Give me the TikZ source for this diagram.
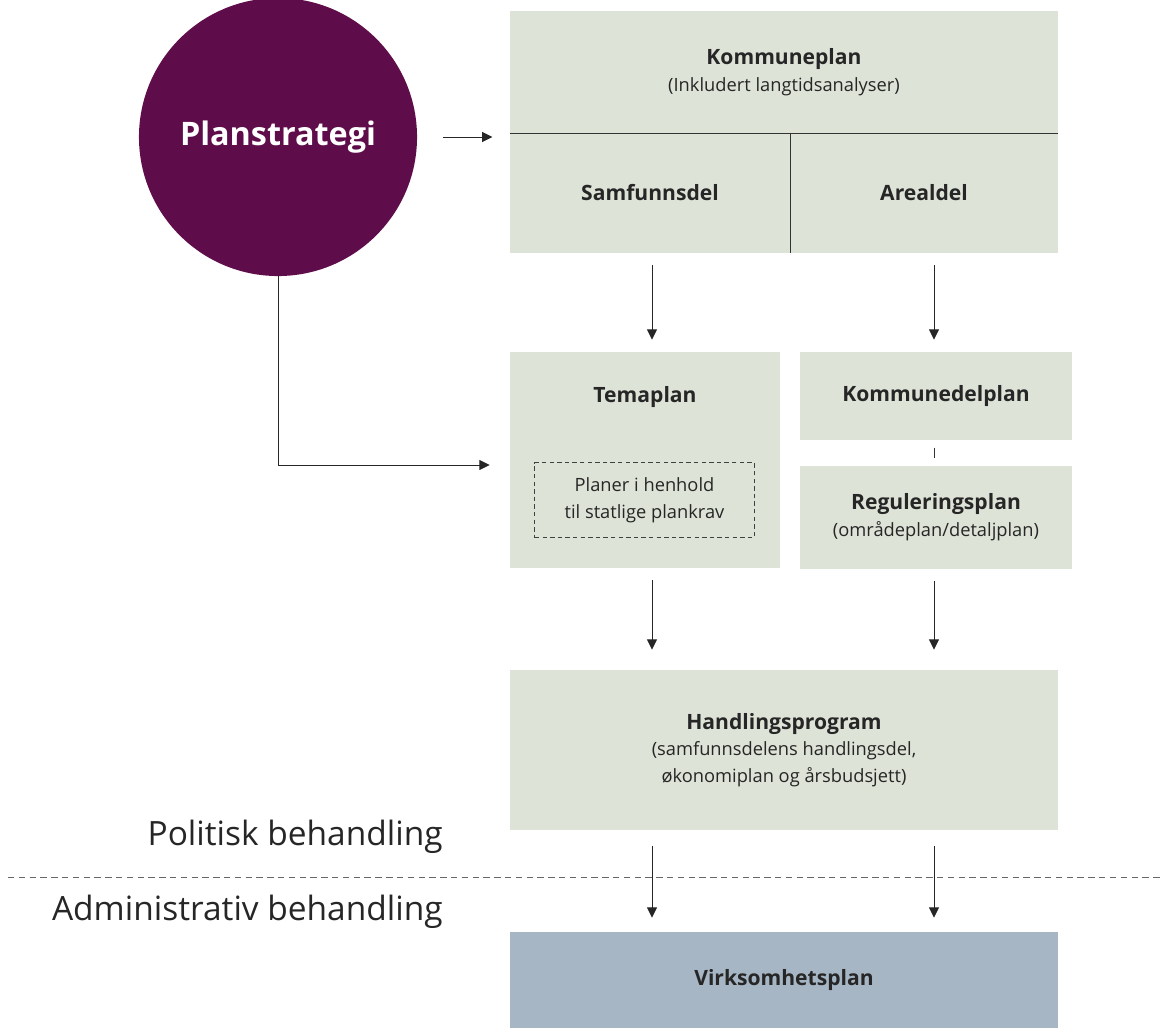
\documentclass[tikz,border=0pt]{standalone}
\usepackage{fontspec}
\setmainfont{Open Sans}
\usetikzlibrary{arrows.meta, positioning}

\definecolor{sage}{HTML}{DDE3D7}
\definecolor{steel}{HTML}{A6B6C4}
\definecolor{plum}{HTML}{5F0C4A}
\newcommand{\boxtitle}{\fontsize{15}{19}\selectfont\bfseries}

\begin{document}
\begin{tikzpicture}[x=0.025cm, y=-0.025cm,
  every node/.style={font=\fontsize{13}{19}\selectfont, align=center, text=black!85},
  planbox/.style={rectangle, fill=sage, inner sep=0pt},
  sidelabel/.style={anchor=east, inner sep=0pt, font=\fontsize{23.8}{28}\selectfont},
  arr/.style={-{Triangle[length=2.6mm, width=2.5mm]}, draw=black!85, line width=0.7pt}]
  \useasboundingbox (0,0) rectangle (1164,1028);

  % Nodes
  \node (strat) [circle, fill=plum, minimum size=6.95cm, inner sep=0pt,
    font=\fontsize{23}{27}\selectfont\bfseries, text=white] at (278,137) {Planstrategi};
  \node (kp) [planbox, minimum width=13.7cm, minimum height=3.05cm] at (784,72)
    {{\boxtitle Kommuneplan}\\(Inkludert langtidsanalyser)};
  \node (samf) [planbox, minimum width=7cm, minimum height=3cm] at (650,193) {\boxtitle Samfunnsdel};
  \node (areal) [planbox, minimum width=6.7cm, minimum height=3cm] at (924,193) {\boxtitle Arealdel};
  \node (tema) [planbox, minimum width=6.75cm, minimum height=5.4cm] at (645,460) {};
  \node (temat) at (645,397) {\boxtitle Temaplan};
  \node (krav) [draw=black!75, dash pattern=on 1.1mm off 0.8mm, line width=0.7pt,
    minimum width=5.475cm, minimum height=1.875cm, inner sep=0pt] at (644.5,500)
    {Planer i henhold\\til statlige plankrav};
  \node (kdp) [planbox, minimum width=6.8cm, minimum height=2.2cm] at (936,396) {\boxtitle Kommunedelplan};
  \node (reg) [planbox, minimum width=6.8cm, minimum height=2.575cm, below=0.625cm of kdp]
    {{\boxtitle Reguleringsplan}\\(områdeplan/detaljplan)};
  \node (handl) [planbox, minimum width=13.7cm, minimum height=4cm] at (784,750)
    {{\boxtitle Handlingsprogram}\\(samfunnsdelens handlingsdel,\\økonomiplan og årsbudsjett)};
  \node (virk) [planbox, fill=steel, minimum width=13.7cm, minimum height=2.4cm] at (784,980)
    {\boxtitle Virksomhetsplan};
  \node (polit) [sidelabel] at (443,837) {Politisk behandling};
  \node (admin) [sidelabel] at (443,912) {Administrativ behandling};

  \coordinate (colA) at (652,0);
  \coordinate (colB) at (934,0);
  \coordinate (temaIn) at (0,465);
  \coordinate (divL) at (8,877);
  \coordinate (divR) at (1164,877);

  % Lines
  \draw[line width=0.9pt, black!80] (kp.south west) -- (kp.south east);
  \draw[line width=0.9pt, black!80] (samf.north east) -- (samf.south east);
  \draw[black!60, line width=0.6pt, dash pattern=on 1.6mm off 1.1mm] (divL) -- (divR);

  % Arrows
  \draw[arr, shorten <=0.65cm, shorten >=0.43cm] (strat.east) -- (strat.east -| kp.west);
  \draw[arr, shorten >=0.5cm] (strat.south) |- (tema.west |- temaIn);
  \draw[arr, shorten <=0.3cm, shorten >=0.3cm] (samf.south -| colA) -- (tema.north -| colA);
  \draw[arr, shorten <=0.3cm, shorten >=0.3cm] (areal.south -| colB) -- (kdp.north -| colB);
  \draw[black!80, line width=0.7pt, shorten <=0.18cm, shorten >=0.18cm] (kdp.south -| colB) -- (reg.north -| colB);
  \draw[arr, shorten <=0.3cm, shorten >=0.5cm] (tema.south -| colA) -- (handl.north -| colA);
  \draw[arr, shorten <=0.3cm, shorten >=0.5cm] (reg.south -| colB) -- (handl.north -| colB);
  \draw[arr, shorten <=0.38cm, shorten >=0.35cm] (handl.south -| colA) -- (virk.north -| colA);
  \draw[arr, shorten <=0.38cm, shorten >=0.35cm] (handl.south -| colB) -- (virk.north -| colB);
\end{tikzpicture}
\end{document}
